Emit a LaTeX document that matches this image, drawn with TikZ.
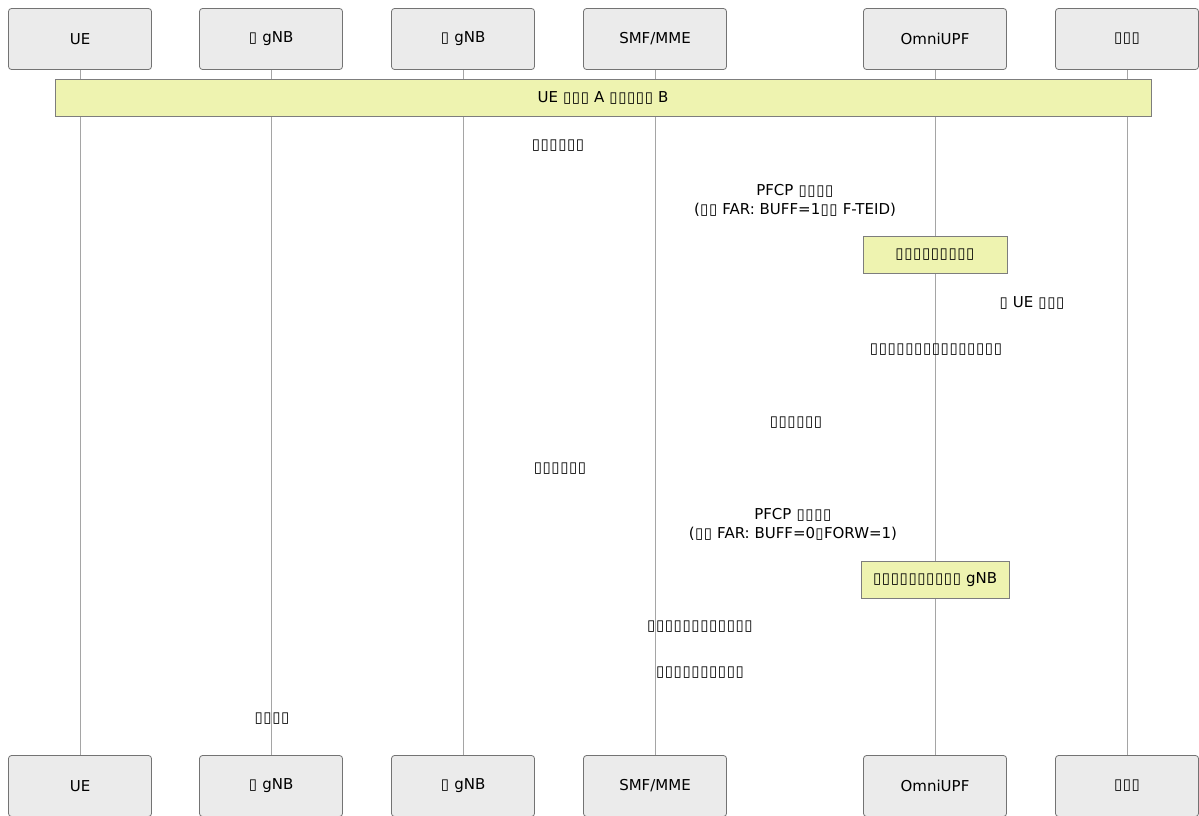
\documentclass[tikz,border=0pt]{standalone}
\usepackage{fontspec}
\setmainfont{DejaVu Sans}
\usetikzlibrary{positioning}
\definecolor{partfill}{RGB}{235,235,235}
\definecolor{partdraw}{RGB}{115,115,115}
\definecolor{notefill}{RGB}{238,243,176}
\definecolor{notedraw}{RGB}{125,125,125}
\definecolor{lifecol}{RGB}{165,165,165}
\newcommand{\tofu}{\makebox[0.59em]{▯}}
\tikzset{
    %Define style for participant boxes
    actor/.style={
           rectangle,
           rounded corners=3pt,
           draw=partdraw, line width=0.8pt,
           fill=partfill,
           minimum width=143pt,
           minimum height=61pt,
           font=\fontsize{15}{19}\selectfont,
           text centered},
    %Define style for notes
    note/.style={
           rectangle,
           draw=notedraw, line width=0.8pt,
           fill=notefill,
           minimum height=37pt,
           font=\fontsize{15}{19}\selectfont,
           text centered},
    %Define style for message labels
    msg/.style={
           inner sep=0pt,
           align=center,
           font=\fontsize{15}{19}\selectfont},
    % Define lifeline style
    life/.style={
           draw=lifecol,
           line width=0.8pt}
}

\begin{document}
\begin{tikzpicture}[x=1pt,y=-1pt]
\useasboundingbox (0,0) rectangle (1199,816);
 %participants
\node[actor](ue) at (80,39){UE};
\node[actor](src) at (271,39){\tofu{} gNB};
\node[actor](tgt) at (463,39){\tofu{} gNB};
\node[actor](smf) at (655,39){SMF/MME};
\node[actor](upf) at (935,39){OmniUPF};
\node[actor](dn) at (1127,39){\tofu\tofu\tofu};
\node[actor](ueb) at (80,786){UE};
\node[actor](srcb) at (271,786){\tofu{} gNB};
\node[actor](tgtb) at (463,786){\tofu{} gNB};
\node[actor](smfb) at (655,786){SMF/MME};
\node[actor](upfb) at (935,786){OmniUPF};
\node[actor](dnb) at (1127,786){\tofu\tofu\tofu};
 %lifelines
\path[life]
    (ue) edge (ueb)
    (src) edge (srcb)
    (tgt) edge (tgtb)
    (smf) edge (smfb)
    (upf) edge (upfb)
    (dn) edge (dnb);
 %notes
\node[note, minimum width=1096pt](move) at (603,97.5){UE \tofu\tofu\tofu{} A \tofu\tofu\tofu\tofu\tofu{} B};
\node[note, minimum width=144pt](buffer) at (935,254.5){\tofu\tofu\tofu\tofu\tofu\tofu\tofu\tofu\tofu};
\node[note, minimum width=148pt](flush) at (935,579.5){\tofu\tofu\tofu\tofu\tofu\tofu\tofu\tofu\tofu\tofu{} gNB};
 %message labels
\node[msg](m1) at (558,146){\tofu\tofu\tofu\tofu\tofu\tofu};
\node[msg](m2) at (795,200){PFCP \tofu\tofu\tofu\tofu\\(\tofu\tofu{} FAR: BUFF=1\tofu\tofu{} F-TEID)};
\node[msg](m3) at (1032,303){\tofu{} UE \tofu\tofu\tofu};
\node[msg](m4) at (936,350){\tofu\tofu\tofu\tofu\tofu\tofu\tofu\tofu\tofu\tofu\tofu\tofu\tofu\tofu\tofu};
\node[msg](m5) at (796,423){\tofu\tofu\tofu\tofu\tofu\tofu};
\node[msg](m6) at (560,469){\tofu\tofu\tofu\tofu\tofu\tofu};
\node[msg](m7) at (793,524){PFCP \tofu\tofu\tofu\tofu\\(\tofu\tofu{} FAR: BUFF=0\tofu{}FORW=1)};
\node[msg](m8) at (700,627){\tofu\tofu\tofu\tofu\tofu\tofu\tofu\tofu\tofu\tofu\tofu\tofu};
\node[msg](m9) at (700,673){\tofu\tofu\tofu\tofu\tofu\tofu\tofu\tofu\tofu\tofu};
\node[msg](m10) at (272,719){\tofu\tofu\tofu\tofu};
\end{tikzpicture}
\end{document}
